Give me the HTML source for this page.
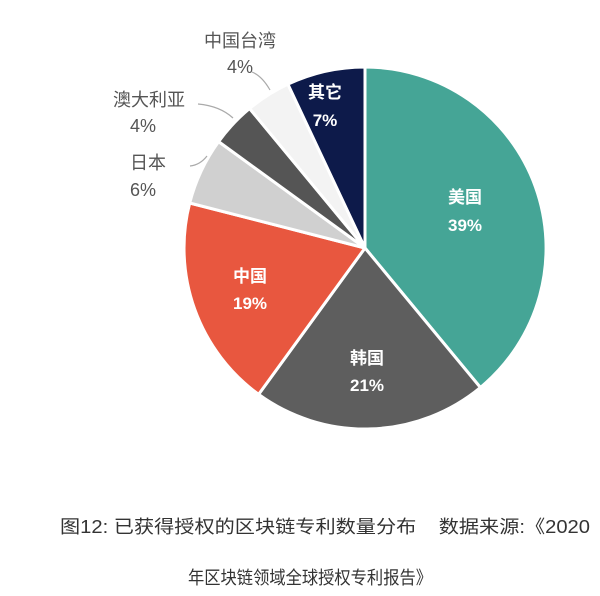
<!DOCTYPE html>
<html><head><meta charset="utf-8"><style>
body{margin:0;background:#fff;width:600px;height:596px;overflow:hidden}
svg{display:block}
text{font-family:"Liberation Sans","Noto Sans CJK SC",sans-serif}
</style></head><body>
<svg width="600" height="596" viewBox="0 0 600 596">
<g stroke="#fff" stroke-width="3" stroke-linejoin="round">
<path d="M365,248 L365,67 A181,181 0 0 1 480.4,387.5 Z" fill="#45a596"/>
<path d="M365,248 L480.4,387.5 A181,181 0 0 1 258.6,394.4 Z" fill="#5e5e5e"/>
<path d="M365,248 L258.6,394.4 A181,181 0 0 1 189.7,203.0 Z" fill="#e8573f"/>
<path d="M365,248 L189.7,203.0 A181,181 0 0 1 218.6,141.6 Z" fill="#d0d0d0"/>
<path d="M365,248 L218.6,141.6 A181,181 0 0 1 249.6,108.5 Z" fill="#555"/>
<path d="M365,248 L249.6,108.5 A181,181 0 0 1 287.9,84.2 Z" fill="#f3f3f3"/>
<path d="M365,248 L287.9,84.2 A181,181 0 0 1 365,67 Z" fill="#0d1a4a"/>
</g>
<g fill="none" stroke="#aaa" stroke-width="1.2">
<path d="M198,104 Q220,106 233,118"/>
<path d="M252,72 Q262,76 270,90"/>
<path d="M190,166 Q200,165 207,156"/>
</g>
<g font-size="17" font-weight="bold" text-anchor="middle">
<text x="465" y="203" fill="#fff">美国</text>
<text x="465" y="231" fill="#fff">39%</text>
<text x="367" y="364" fill="#fff">韩国</text>
<text x="367" y="391" fill="#fff">21%</text>
<text x="250" y="282" fill="#fff">中国</text>
<text x="250" y="309" fill="#fff">19%</text>
<text x="325" y="98" fill="#fff">其它</text>
<text x="325" y="126" fill="#fff">7%</text>
<g fill="#555" font-weight="normal" font-size="18">
<text x="148" y="169">日本</text>
<text x="143" y="196">6%</text>
<text x="149" y="106">澳大利亚</text>
<text x="143" y="132">4%</text>
<text x="240" y="47">中国台湾</text>
<text x="240" y="73">4%</text>
</g>
</g>
<g font-size="18" fill="#333">
<text x="60" y="533" textLength="530" lengthAdjust="spacingAndGlyphs" xml:space="preserve">图12: 已获得授权的区块链专利数量分布    数据来源:《2020</text>
<text x="188" y="584" textLength="244" lengthAdjust="spacingAndGlyphs">年区块链领域全球授权专利报告》</text>
</g>
</svg>
</body></html>
